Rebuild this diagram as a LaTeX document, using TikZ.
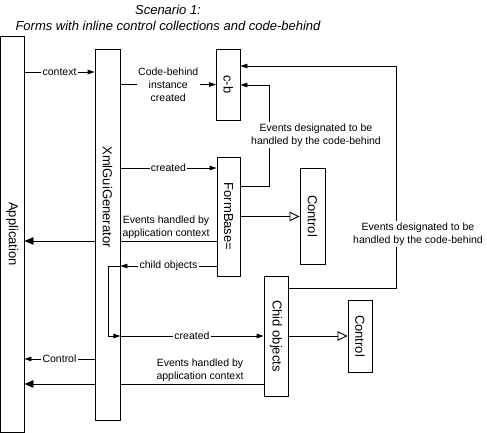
\documentclass[tikz,border=0pt]{standalone}
\usepackage{fontspec}
\setmainfont{Liberation Sans}
\usetikzlibrary{arrows.meta}
\tikzset{
  box/.style={draw, fill=white, line width=0.9pt, inner sep=0pt, minimum width=#1},
  boxtext/.style={rotate=-90, font=\fontsize{13}{15}\selectfont},
  lbl/.style={fill=white, inner sep=1.2pt, font=\fontsize{10.5}{13}\selectfont, align=center},
  lblplain/.style={inner sep=1pt, font=\fontsize{10.5}{13}\selectfont, align=center},
  conn/.style={line width=0.9pt},
  sarr/.style={conn, -{Triangle[length=7pt,width=4.5pt]}},
  barr/.style={conn, -{Triangle[length=9pt,width=7.5pt]}},
  oarr/.style={conn, -{Triangle[open,length=10pt,width=9.5pt,fill=white]}},
}
\begin{document}
\begin{tikzpicture}[x=1pt,y=-1pt]
\useasboundingbox (0,0) rectangle (487,433);
% title
\node[font=\fontsize{13}{16}\selectfont\itshape, align=center] (title) at (168,18) {Scenario 1:\\Forms with inline control collections and code-behind};
% boxes as coordinates (nodes drawn later)
\node[box=23.5pt, minimum height=396pt, draw=none, fill=none] (app) at (12.25,234) {};
\node[box=25pt, minimum height=371pt, draw=none, fill=none] (xg) at (107.5,234.5) {};
\node[box=23.5pt, minimum height=71pt, draw=none, fill=none] (cb) at (228.25,84.5) {};
\node[box=23pt, minimum height=119pt, draw=none, fill=none] (fb) at (228.5,216.5) {};
\node[box=25pt, minimum height=96pt, draw=none, fill=none] (c1) at (312.5,216) {};
\node[box=24pt, minimum height=120pt, draw=none, fill=none] (ch) at (276,336) {};
\node[box=24pt, minimum height=72pt, draw=none, fill=none] (c2) at (360,336) {};
% connectors
\draw[sarr] (app.east|-0,72) -- node[lbl]{context} (xg.west|-0,72);
\draw[sarr] (xg.east|-0,84.5) -- node[lbl]{Code-behind\\instance\\created} (cb.west|-0,84.5);
\draw[sarr] (xg.east|-0,168) -- node[lbl]{created} (fb.west|-0,168);
\draw[oarr] (fb.east|-0,216.5) -- (c1.west|-0,216.5);
\draw[barr] (fb.west|-0,241) -- (app.east|-0,241);
\node[lblplain, anchor=south] (ev1) at (166,239.5) {Events handled by\\application context};
\draw[sarr] (fb.west|-0,266) -- node[lbl]{child objects} (xg.east|-0,266);
\draw[sarr] (xg.east|-0,336) -- node[lbl]{created} (ch.west|-0,336);
\draw[oarr] (ch.east|-0,336) -- (c2.west|-0,336);
\draw[sarr] (xg.west|-0,359) -- node[lbl]{Control} (app.east|-0,359);
\draw[barr] (ch.west|-0,384) -- (app.east|-0,384);
\node[lblplain, anchor=south] (ev2) at (200,382.5) {Events handled by\\application context};
\coordinate (k1) at (269,186);
\draw[sarr] (fb.east|-k1) -- (k1) |- (cb.east|-0,85);
\node[lbl] (ed1) at (316,135) {Events designated to be\\handled by the code-behind};
\coordinate (k2) at (396,288);
\draw[sarr] (ch.east|-k2) -- (k2) |- (cb.east|-0,66);
\node[lbl] (ed2) at (418,234) {Events designated to be\\handled by the code-behind};
% boxes
\node[box=23.5pt, minimum height=396pt, label={[boxtext]center:Application}] at (app) {};
\node[box=25pt, minimum height=371pt] at (xg) {};
\node[boxtext] (xgt) at (107.5,197) {XmlGuiGenerator};
\node[box=23.5pt, minimum height=71pt, label={[boxtext]center:c-b}] at (cb) {};
\node[box=23pt, minimum height=119pt, label={[boxtext]center:FormBase=}] at (fb) {};
\node[box=25pt, minimum height=96pt, label={[boxtext]center:Control}] at (c1) {};
\node[box=24pt, minimum height=120pt, label={[boxtext]center:Chid objects}] at (ch) {};
\node[box=24pt, minimum height=72pt, label={[boxtext]center:Control}] at (c2) {};
% self loop inside generator
\draw[sarr] (xg.east|-0,266) -- (108,266) |- (xg.east|-0,336);
\end{tikzpicture}
\end{document}
